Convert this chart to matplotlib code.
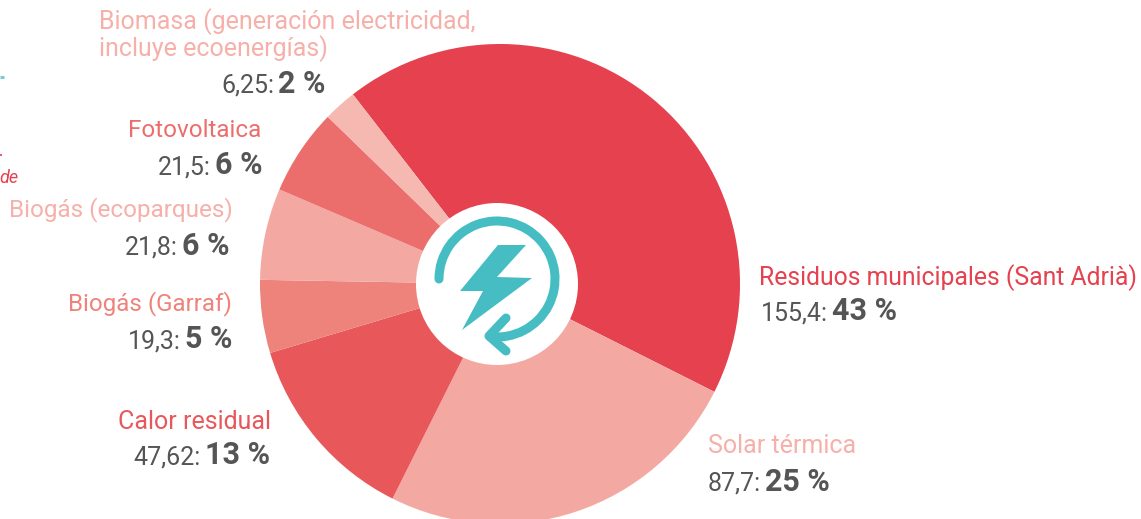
import numpy as np
import matplotlib
matplotlib.use("Agg")
import matplotlib.pyplot as plt
from matplotlib.patches import Circle, Polygon, Arc

categories = ["Residuos municipales (Sant Adrià)", "Solar térmica", "Calor residual", "Biogás (Garraf)",
              "Biogás (ecoparques)", "Fotovoltaica", "Biomasa (generación electricidad,\nincluye ecoenergías)"]
# slice sizes as drawn in the picture, in degrees; they differ a little from the printed figures
slice_sizes = [154.5, 89.9, 46.7, 17.7, 22.2, 20.95, 8.05]
value_labels = ["155,4:", "87,7:", "47,62:", "19,3:", "21,8:", "21,5:", "6,25:"]
percent_labels = ["43 %", "25 %", "13 %", "5 %", "6 %", "6 %", "2 %"]
slice_colors = ["#E5414F", "#F3A9A2", "#E8585B", "#EE837B", "#F3A9A2", "#EC6E6C", "#F6B9B2"]
label_colors = ["#E5414F", "#F6B0A9", "#E8585B", "#EE837B", "#F6B0A9", "#EC6E6C", "#F6B0A9"]

# label layout in image pixels: name x, name baseline, alignment, gap x, value baseline
name_x = [759, 708, 271, 232, 233, 261, 99]
name_y = [285, 453, 429, 310, 216, 137, 56]
name_ha = ["left", "left", "right", "right", "right", "right", "left"]
name_size = [17.85, 18, 18, 17.35, 17.5, 17.5, 18]
gap_x = [830, 763, 203, 183, 180, 213, 276]
value_y = [320, 491, 464, 348, 255, 174, 93]

W, H = 1141, 519
TEAL = "#45BDC3"
GREY = "#555555"
FONT = "Roboto"


def py(y):
    # image rows run downwards, the axes run upwards
    return H - y


fig = plt.figure(figsize=(W / 100, H / 100), dpi=100)
ax = fig.add_axes([0, 0, 1, 1])

ax.pie(slice_sizes, colors=slice_colors, startangle=127.8, counterclock=False,
       center=(500, py(284)), radius=240, wedgeprops={"linewidth": 0}, frame=True)
ax.set_xlim(0, W)
ax.set_ylim(0, H)
ax.set_aspect("auto")
ax.axis("off")

# centre badge
ax.add_patch(Circle((497, py(284)), 81, fc="white", ec="none", zorder=3))
ax.add_patch(Arc((497, py(279)), 116, 116, theta1=-97, theta2=180, color=TEAL, lw=6.5,
                 capstyle="round", zorder=4))
ax.plot([506, 489, 506], [py(318), py(336), py(351)], color=TEAL, lw=6.5,
        solid_capstyle="round", solid_joinstyle="round", zorder=4)
bolt = [(498, 245), (526, 245), (497, 277), (532, 278), (462, 330), (483, 291), (460, 291)]
ax.add_patch(Polygon([(x, py(y)) for x, y in bolt], closed=True, fc=TEAL, ec="none", zorder=4))

for i, name in enumerate(categories):
    ax.text(name_x[i], py(name_y[i]), name, color=label_colors[i], ha=name_ha[i], va="baseline",
            fontsize=name_size[i], family=FONT, linespacing=1.02, zorder=5)
    ax.text(gap_x[i] - 2, py(value_y[i]), value_labels[i], color=GREY, ha="right", va="baseline",
            fontsize=18, family=FONT, zorder=5)
    ax.text(gap_x[i] + 2, py(value_y[i]), percent_labels[i], color=GREY, ha="left", va="baseline",
            fontsize=22, family=FONT, fontweight="bold", zorder=5)

# bits of the neighbouring page layout cut off at the left edge
ax.plot([0, 4], [py(76.5), py(76.5)], color="#7CCBCF", lw=2.2, solid_capstyle="butt")
ax.plot([0, 2], [py(155), py(155)], color="#E5414F", lw=1.2, solid_capstyle="butt")
ax.text(-1, py(183), "de", color="#E5414F", fontsize=13, style="italic", family=FONT, va="baseline")

fig.savefig("out.png", dpi=100)
